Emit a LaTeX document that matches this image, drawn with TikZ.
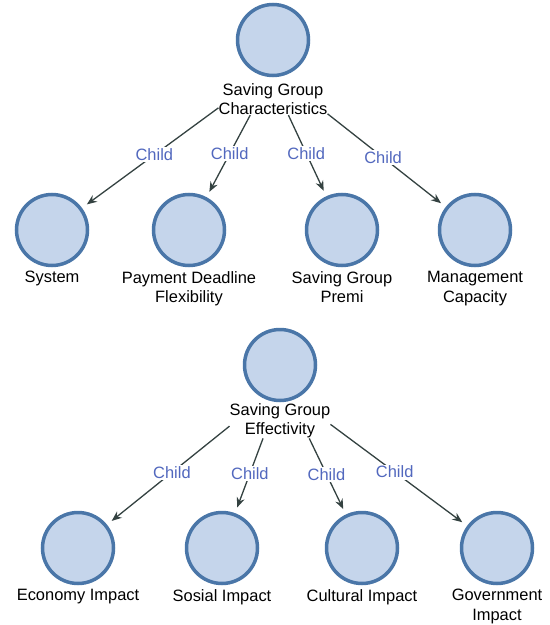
\documentclass[tikz,border=0pt]{standalone}
\usepackage{fontspec}
\setmainfont{Liberation Sans}
\usetikzlibrary{arrows.meta,positioning}
\definecolor{bubblefill}{RGB}{197,213,235}
\definecolor{bubbleline}{RGB}{74,118,168}
\definecolor{linkgray}{RGB}{52,66,65}
\definecolor{childblue}{RGB}{82,104,190}
\begin{document}
\begin{tikzpicture}[x=1bp, y=-1bp, >={Stealth[length=10bp,width=8bp]},
    bubble/.style={circle, draw=bubbleline, fill=bubblefill, line width=3.5bp, minimum size=71bp, inner sep=0pt},
    caption/.style={align=center, inner sep=0pt, font=\fontsize{16.5}{19.5}\selectfont},
    link/.style={->, draw=linkgray, line width=1.3bp, shorten >=6bp},
    child/.style={pos=.47, fill=white, inner sep=1.5bp, text=childblue, font=\fontsize{16.5}{19.5}\selectfont}]
\useasboundingbox (0,0) rectangle (550,625);
% characteristics tree
\node[bubble] (char) at (273,40) {};
\node[caption, below=6bp of char] (charlab) {Saving Group\\Characteristics};
\node[bubble] (sys) at (52,230) {};
\node[caption, below=4bp of sys] (syslab) {System};
\node[bubble] (pay) at (189,230) {};
\node[caption, below=4bp of pay] (paylab) {Payment Deadline\\Flexibility};
\node[bubble] (premi) at (342,230) {};
\node[caption, below=4bp of premi] (premilab) {Saving Group\\Premi};
\node[bubble] (mgmt) at (475,230) {};
\node[caption, below=4bp of mgmt] (mgmtlab) {Management\\Capacity};
\draw[link] (charlab.189) -- node[child]{Child} (sys);
\draw[link] (charlab.215) -- node[child]{Child} (pay);
\draw[link] (charlab.314) -- node[child]{Child} (premi);
\draw[link] (charlab.345) -- node[child]{Child} (mgmt);
% effectivity tree
\node[bubble] (eff) at (280,365) {};
\node[caption, below=1bp of eff] (efflab) {Saving Group\\Effectivity};
\node[bubble] (econ) at (78,548) {};
\node[caption, below=4bp of econ] (econlab) {Economy Impact};
\node[bubble] (sosial) at (222,548) {};
\node[caption, below=4bp of sosial] (sosiallab) {Sosial Impact};
\node[bubble] (cult) at (362,548) {};
\node[caption, below=4bp of cult] (cultlab) {Cultural Impact};
\node[bubble] (gov) at (497,548) {};
\node[caption, below=4bp of gov] (govlab) {Government\\Impact};
\draw[link] (efflab.186) -- node[child]{Child} (econ);
\draw[link] (efflab.226) -- node[child]{Child} (sosial);
\draw[link] (efflab.329) -- node[child]{Child} (cult);
\draw[link] (efflab.356) -- node[child]{Child} (gov);
\end{tikzpicture}
\end{document}
